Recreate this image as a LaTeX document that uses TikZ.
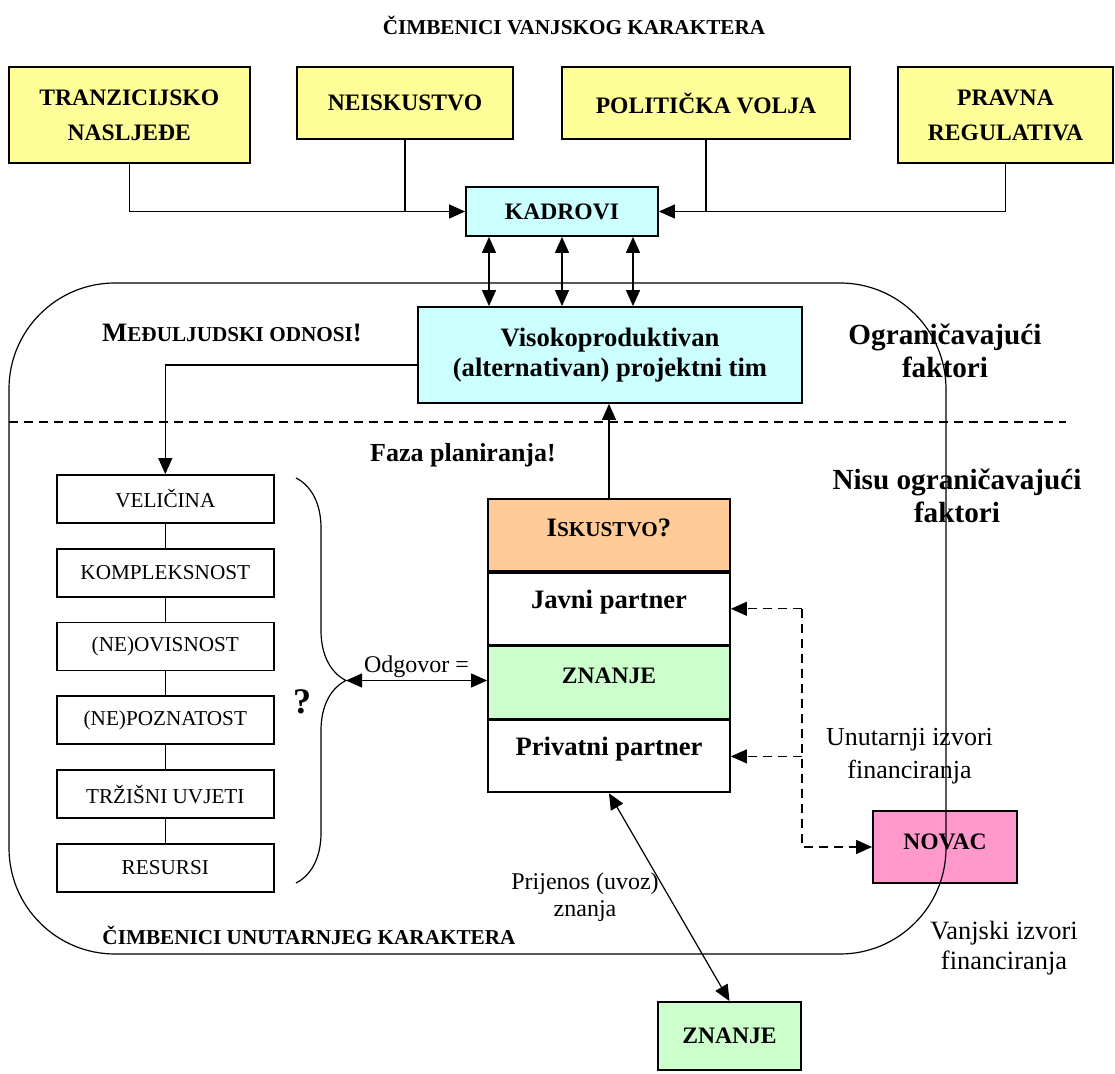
\documentclass[tikz,border=0pt]{standalone}
\usepackage{fontspec}
\setmainfont{Liberation Serif}
\usetikzlibrary{arrows.meta, positioning, decorations.pathreplacing, calc}
\definecolor{zuta}{HTML}{FFFF99}
\definecolor{plava}{HTML}{CCFFFF}
\definecolor{narancasta}{HTML}{FFCC99}
\definecolor{zelena}{HTML}{CCFFCC}
\definecolor{ruzicasta}{HTML}{FF99CC}
\newcommand{\malekap}[1]{{\fontsize{10.6}{13}\selectfont #1}}

\begin{document}
\begin{tikzpicture}[x=0.5pt, y=-0.5pt, line width=0.6pt,
    >={Triangle[length=8pt, width=7pt]},
    okvir/.style={draw, line width=0.9pt, align=center},
    zutibox/.style={okvir, fill=zuta, font=\bfseries\fontsize{11.8}{17.5}\selectfont},
    faktor/.style={okvir, minimum width=108.3pt, minimum height=24pt, font=\fontsize{10.6}{13}\selectfont},
    cell/.style={okvir, minimum width=121pt, minimum height=36pt},
    celltxt/.style={font=\bfseries\fontsize{13.3}{15}\selectfont},
    naslovtxt/.style={font=\bfseries\fontsize{10.6}{13}\selectfont},
    dasharr/.style={->, dash pattern=on 4.5pt off 3pt}]
  \useasboundingbox (0,0) rectangle (1115,1074);

  % vanjski cimbenici
  \node[naslovtxt] (naslov) at (574,25) {ČIMBENICI VANJSKOG KARAKTERA};
  \node[zutibox, minimum width=120.5pt, minimum height=48pt] (tranz) at (129.3,115) {TRANZICIJSKO\\NASLJEĐE};
  \node[zutibox, minimum width=108pt, minimum height=36pt] (neisk) at (405,103) {NEISKUSTVO};
  \node[zutibox, minimum width=144pt, minimum height=36pt] (polit) at (706,103) {POLITIČKA VOLJA};
  \node[zutibox, minimum width=107.5pt, minimum height=48pt] (pravna) at (1005.5,115) {PRAVNA\\REGULATIVA};
  \node[zutibox, fill=plava, minimum width=96pt, minimum height=24.5pt] (kadrovi) at (562,211.5) {KADROVI};

  \draw[->] (tranz.south) |- (kadrovi.west);
  \draw (neisk.south) -- (neisk.south |- kadrovi.west);
  \draw[->] (pravna.south) |- (kadrovi.east);
  \draw (polit.south) -- (polit.south |- kadrovi.east);

  % unutarnji cimbenici
  \draw[dash pattern=on 4.5pt off 3pt] (9,422) -- (1066,422);

  \node[okvir, fill=plava, minimum width=192pt, minimum height=48pt,
        font=\bfseries\fontsize{13.3}{15}\selectfont] (tim) at (610,355)
        {Visokoproduktivan\\(alternativan) projektni tim};
  \foreach \dx [count=\i] in {-73,0,71} {
    \coordinate (k\i) at ($(kadrovi.south)+(\dx,0)$);
    \draw[<->] (k\i) -- (k\i |- tim.north);
  }

  \node[font=\bfseries\fontsize{13.3}{15}\selectfont] (medj) at (232,333)
        {M\malekap{EĐULJUDSKI ODNOSI}!};
  \node[align=center, font=\bfseries\fontsize{14.6}{16.5}\selectfont] (ogr) at (945,351)
        {Ograničavajući\\faktori};
  \node[align=center, font=\bfseries\fontsize{14.6}{16.5}\selectfont] (nisu) at (957,496)
        {Nisu ograničavajući\\faktori};
  \node[font=\bfseries\fontsize{13}{15}\selectfont] (faza) at (463,455) {Faza planiranja!};

  % lijevi stupac
  \node[faktor] (velicina) at (165.3,499) {VELIČINA};
  \node[faktor, below=12pt of velicina] (kompleks) {KOMPLEKSNOST};
  \node[faktor, below=12pt of kompleks] (ovisnost) {(NE)OVISNOST};
  \node[faktor, below=12pt of ovisnost] (poznatost) {(NE)POZNATOST};
  \node[faktor, below=12pt of poznatost] (trziste) {TRŽIŠNI UVJETI};
  \node[faktor, below=12pt of trziste] (resursi) {RESURSI};
  \draw (velicina) -- (kompleks);
  \draw (kompleks) -- (ovisnost);
  \draw (ovisnost) -- (poznatost);
  \draw (poznatost) -- (trziste);
  \draw (trziste) -- (resursi);

  \coordinate (timizlaz) at ($(tim.west)+(0,10)$);
  \draw[->] (timizlaz) -| (velicina.north);

  \draw[decorate, decoration={brace, amplitude=25pt}] (296,478) -- (296,883);
  \coordinate (vrh) at (346,680.5);
  \node[font=\bfseries\fontsize{18}{20}\selectfont] (upit) at (302,702) {?};

  % partneri
  \node[cell, fill=narancasta,
        label={[celltxt, yshift=3.5pt]center:{I\malekap{SKUSTVO}?}}] (isk) at (609,535) {};
  \node[cell, below=0pt of isk, label={[celltxt, yshift=3.5pt]center:Javni partner}] (javni) {};
  \node[cell, fill=zelena, below=0pt of javni,
        label={[celltxt, font=\bfseries\fontsize{11.8}{14}\selectfont, yshift=3.5pt]center:ZNANJE}] (znanje) {};
  \node[cell, below=0pt of znanje, label={[celltxt, yshift=3.5pt]center:Privatni partner}] (privatni) {};

  \draw[->] (isk.north) -- (isk.north |- tim.south);
  \draw[<->] (vrh) -- (vrh -| znanje.west)
    node[midway, above=-2pt, font=\fontsize{12}{14}\selectfont] {Odgovor =};

  % financiranje
  \node[zutibox, fill=ruzicasta, minimum width=72pt, minimum height=36pt,
        label={[font=\bfseries\fontsize{11.8}{14}\selectfont, yshift=2.5pt]center:NOVAC}] (novac) at (945,847) {};
  \coordinate (fond) at (802,0);
  \draw[dasharr] (fond |- javni.east) -- (javni.east);
  \draw[dasharr] (fond |- privatni.east) -- (privatni.east);
  \draw[dasharr] (fond |- javni.east) |- (novac.west);
  \node[align=center, font=\fontsize{13}{16.5}\selectfont] (unutar) at (909.5,756)
        {Unutarnji izvori\\financiranja};
  \node[align=center, font=\fontsize{13.2}{15}\selectfont] (vanjski) at (1004,948)
        {Vanjski izvori\\financiranja};

  % prijenos znanja
  \node[zutibox, fill=zelena, minimum width=71.5pt, minimum height=34pt] (znanje2) at (729.5,1036) {ZNANJE};
  \draw[<->] (privatni.south) -- (znanje2.north);
  \node[align=center, font=\fontsize{12}{13.5}\selectfont] (prijenos) at (585,897)
        {Prijenos (uvoz)\\znanja};
  \node[naslovtxt] (naslovdolje) at (309,935) {ČIMBENICI UNUTARNJEG KARAKTERA};

  % granica unutarnjih cimbenika, preko NOVAC
  \draw[rounded corners=53pt] (9,283) rectangle (946,954);
\end{tikzpicture}
\end{document}
